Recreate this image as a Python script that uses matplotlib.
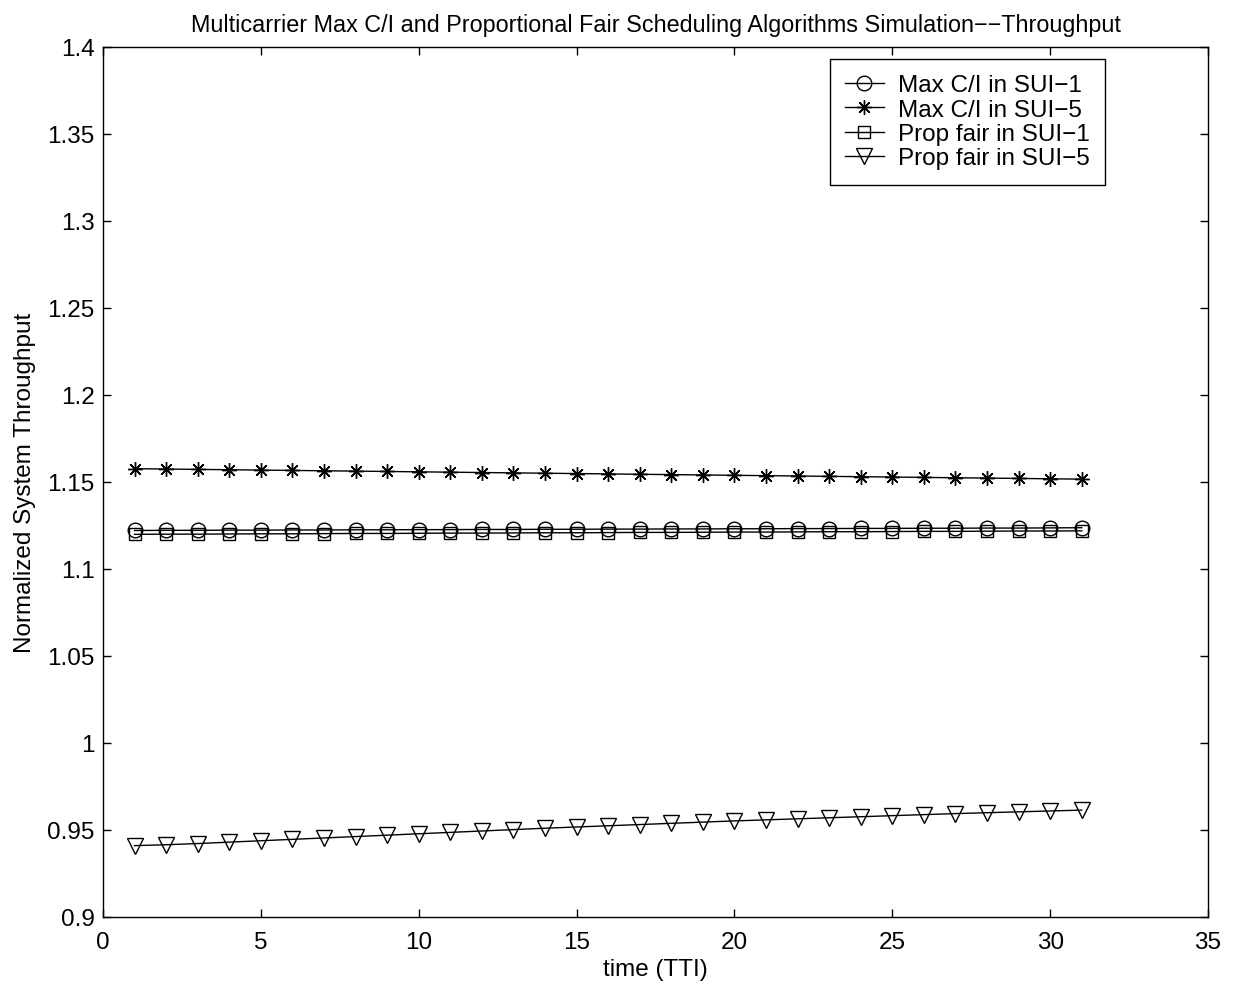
import numpy as np
import matplotlib
matplotlib.use("Agg")
import matplotlib.pyplot as plt
from matplotlib.ticker import FormatStrFormatter, MultipleLocator

plt.rcParams['font.family'] = ['Liberation Sans', 'DejaVu Sans']
plt.rcParams['font.size'] = 17.5

# time axis (TTI index)
tti = list(range(1, 32))

# normalized throughput per scheduler / channel model
maxci_sui1 = [1.1220, 1.1221, 1.1221, 1.1222, 1.1222, 1.1223, 1.1223, 1.1224,
              1.1224, 1.1225, 1.1225, 1.1226, 1.1226, 1.1227, 1.1227, 1.1228,
              1.1228, 1.1229, 1.1229, 1.1230, 1.1230, 1.1231, 1.1231, 1.1232,
              1.1232, 1.1233, 1.1233, 1.1234, 1.1234, 1.1235, 1.1236]
maxci_sui5 = [1.1575, 1.1573, 1.1571, 1.1569, 1.1567, 1.1565, 1.1563, 1.1561,
              1.1559, 1.1557, 1.1555, 1.1553, 1.1551, 1.1549, 1.1547, 1.1545,
              1.1543, 1.1541, 1.1539, 1.1537, 1.1535, 1.1533, 1.1531, 1.1529,
              1.1527, 1.1525, 1.1523, 1.1521, 1.1519, 1.1517, 1.1515]
pf_sui1 = [1.1198, 1.1199, 1.1199, 1.1200, 1.1201, 1.1201, 1.1202, 1.1203,
           1.1203, 1.1204, 1.1205, 1.1205, 1.1206, 1.1207, 1.1207, 1.1208,
           1.1209, 1.1209, 1.1210, 1.1211, 1.1211, 1.1212, 1.1213, 1.1213,
           1.1214, 1.1215, 1.1215, 1.1216, 1.1217, 1.1217, 1.1218]
pf_sui5 = [0.9410, 0.9415, 0.9422, 0.9430, 0.9438, 0.9446, 0.9454, 0.9462,
           0.9470, 0.9478, 0.9486, 0.9494, 0.9502, 0.9510, 0.9517, 0.9524,
           0.9531, 0.9538, 0.9545, 0.9552, 0.9558, 0.9564, 0.9570, 0.9576,
           0.9582, 0.9588, 0.9594, 0.9599, 0.9604, 0.9609, 0.9614]

fig = plt.figure(figsize=(12.42, 9.87), dpi=100)
ax = fig.add_axes([103 / 1242, 1 - 918 / 987, 1105 / 1242, 870.5 / 987])

style = dict(color='k', lw=1.0, mfc='none', mec='k', mew=1.0)
ax.plot(tti, maxci_sui1, marker='o', ms=10.5, label='Max C/I in SUI\u22121', **style)
ax.plot(tti, maxci_sui5, marker=(8, 2, 0), ms=10.5, label='Max C/I in SUI\u22125', **style)
ax.plot(tti, pf_sui1, marker='s', ms=8, label='Prop fair in SUI\u22121', **style)
ax.plot(tti, pf_sui5, marker='v', ms=12, label='Prop fair in SUI\u22125', **style)

ax.set_xlim(0, 35)
ax.set_ylim(0.9, 1.4)
ax.xaxis.set_major_locator(MultipleLocator(5))
ax.yaxis.set_major_locator(MultipleLocator(0.05))
ax.yaxis.set_major_formatter(FormatStrFormatter('%g'))
ax.tick_params(direction='in', length=6, width=1, top=True, right=True)
ax.tick_params(axis='x', pad=10)
ax.tick_params(axis='y', pad=6)
for sp in ax.spines.values():
    sp.set_linewidth(1.0)

ax.set_xlabel('time (TTI)', labelpad=4)
ax.set_ylabel('Normalized System Throughput', labelpad=8)
ax.set_title('Multicarrier Max C/I and Proportional Fair Scheduling Algorithms '
             'Simulation\u2212\u2212Throughput', fontsize=16.8, pad=11)

leg = ax.legend(loc='upper right', bbox_to_anchor=(0.9068, 0.9856),
                borderaxespad=0, fancybox=False, edgecolor='k', framealpha=1,
                handlelength=1.6, handletextpad=0.6, labelspacing=0.1,
                borderpad=0.62)
leg.get_frame().set_linewidth(1.0)

fig.savefig('out.png', dpi=100)
